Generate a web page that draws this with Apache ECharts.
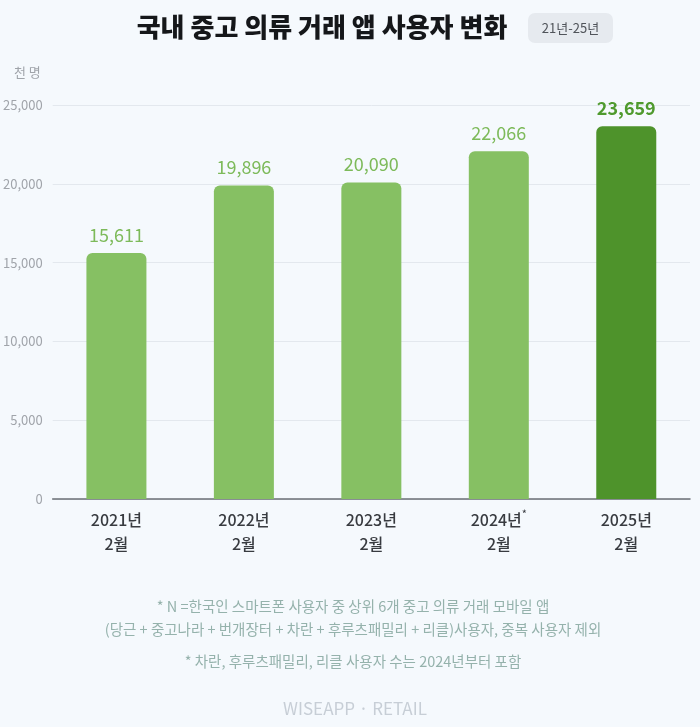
<!DOCTYPE html>
<html><head><meta charset="utf-8">
<script src="https://cdn.jsdelivr.net/npm/echarts@6/dist/echarts.min.js"></script>
<style>html,body{margin:0;padding:0;background:#f5f9fd;}#c{width:700px;height:727px;}</style>
</head><body><div id="c"></div>
<script>
const categories = ['2021년\n2월', '2022년\n2월', '2023년\n2월', '2024년*\n2월', '2025년\n2월'];
const users = [15611, 19896, 20090, 22066, 23659];
const yTicks = [0, 5000, 10000, 15000, 20000, 25000];
const footnotes = [
  '* N =한국인 스마트폰 사용자 중 상위 6개 중고 의류 거래 모바일 앱',
  '(당근 + 중고나라 + 번개장터 + 차란 + 후루츠패밀리 + 리클)사용자, 중복 사용자 제외',
  '* 차란, 후루츠패밀리, 리클 사용자 수는 2024년부터 포함'
];
const F = '"Noto Sans CJK KR","Noto Sans",sans-serif';
const chart = echarts.init(document.getElementById('c'));
const last = users.length - 1;
chart.setOption({
  backgroundColor: '#f5f9fd',
  animation: false,
  grid: {left: 52, right: 10, top: 105, bottom: 228},
  xAxis: {
    type: 'category', data: categories,
    axisTick: {show: false},
    axisLine: {lineStyle: {color: '#6b6f75', width: 1.5}},
    axisLabel: {
      interval: 0, hideOverlap: false,
      margin: 9, color: '#3d4046', fontFamily: F, fontSize: 16, lineHeight: 24,
      formatter: v => {
        const [a, b] = v.split('\n');
        if (a.endsWith('*')) return '{t|' + a.slice(0, -1) + '}{s|*}\n{t|' + b + '}';
        return '{t|' + a + '}\n{t|' + b + '}';
      },
      rich: {
        t: {fontFamily: F, fontSize: 16, fontWeight: 500, color: '#383b40', lineHeight: 24},
        s: {fontFamily: F, fontSize: 11, color: '#383b40', verticalAlign: 'top', lineHeight: 24, padding: [0, 0, 6, 0]}
      }
    }
  },
  yAxis: {
    type: 'value', min: yTicks[0], max: yTicks[yTicks.length - 1], interval: 5000,
    axisLabel: {color: '#a0a4aa', fontFamily: F, fontSize: 13, margin: 10,
      formatter: v => v.toLocaleString('en-US')},
    splitLine: {lineStyle: {color: '#e3e8ee', width: 1}},
    axisLine: {show: false}, axisTick: {show: false}
  },
  series: [{
    type: 'bar', barWidth: 60,
    data: users.map((v, i) => ({
      value: v,
      itemStyle: {color: i === last ? '#4e932b' : '#86c063', borderRadius: [6, 6, 0, 0]},
      label: {color: i === last ? '#4f9a2e' : '#7dba5a', fontWeight: i === last ? 'bold' : 'normal'}
    })),
    label: {show: true, position: 'top', distance: 9, fontFamily: F, fontSize: 18,
      formatter: p => p.value.toLocaleString('en-US')}
  }],
  graphic: [
    {type: 'text', x: 322, y: 27, style: {text: '국내 중고 의류 거래 앱 사용자 변화', fontFamily: F, fontSize: 26, fontWeight: 900, fill: '#15171a', align: 'center', verticalAlign: 'middle'}},
    {type: 'rect', left: 528, top: 13, shape: {width: 85, height: 30, r: 7}, style: {fill: '#e6eaef'}},
    {type: 'text', x: 570.5, y: 28, style: {text: '21년-25년', fontFamily: F, fontSize: 13, fill: '#50545a', align: 'center', verticalAlign: 'middle'}},
    {type: 'text', left: 14, top: 66, style: {text: '천 명', fontFamily: F, fontSize: 13, fill: '#a0a4aa'}},
    {type: 'text', x: 353, y: 606, style: {text: footnotes[0], fontFamily: F, fontSize: 14.5, fill: '#95b2ac', align: 'center', verticalAlign: 'middle'}},
    {type: 'text', x: 353, y: 629, style: {text: footnotes[1], fontFamily: F, fontSize: 14.5, fill: '#95b2ac', align: 'center', verticalAlign: 'middle'}},
    {type: 'text', x: 353, y: 661, style: {text: footnotes[2], fontFamily: F, fontSize: 14.5, fill: '#95b2ac', align: 'center', verticalAlign: 'middle'}},
    {type: 'text', x: 355, y: 709, style: {text: 'WISEAPP · RETAIL', fontFamily: F, fontSize: 17, fill: '#c7ced6', align: 'center', verticalAlign: 'middle'}}
  ]
});
</script></body></html>
